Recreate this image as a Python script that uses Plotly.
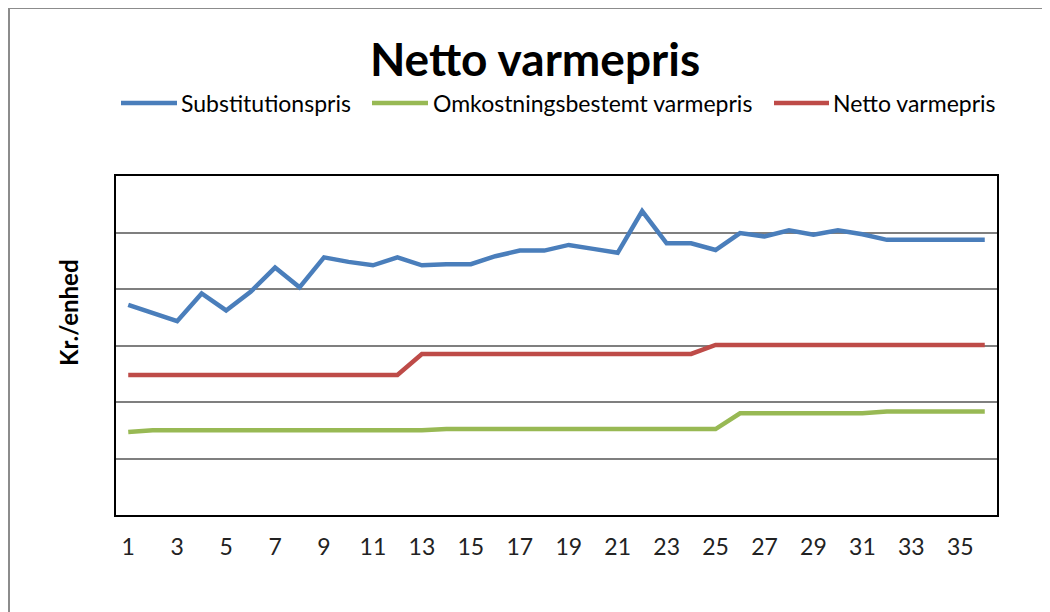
import plotly.graph_objects as go

periods = list(range(1, 37))
tick_labels = [str(i) for i in range(1, 37, 2)]

substitutionspris = [3.72, 3.57, 3.43, 3.92, 3.62, 3.95, 4.38, 4.03, 4.56, 4.48,
                     4.42, 4.56, 4.42, 4.44, 4.44, 4.58, 4.68, 4.68, 4.78, 4.71,
                     4.64, 5.38, 4.81, 4.81, 4.69, 4.99, 4.93, 5.04, 4.96, 5.04,
                     4.97, 4.87, 4.87, 4.87, 4.87, 4.87]
omkostningsbestemt = [1.47] + [1.50] * 12 + [1.52] * 12 + [1.80] * 6 + [1.83] * 5
netto = [2.48] * 12 + [2.85] * 12 + [3.01] * 12

series_names = ["Substitutionspris", "Omkostningsbestemt varmepris", "Netto varmepris"]
series_values = [substitutionspris, omkostningsbestemt, netto]
series_colors = ["#4A7EBB", "#98B954", "#BE4B48"]

FONT = "Lato, 'Open Sans', sans-serif"

# plot area in page pixels (page has an 8px body margin)
PL, PR, PT, PB = 116, 997, 176, 515
def px(X):
    return (X - PL) / (PR - PL)
def py(Y):
    return (PB - Y) / (PB - PT)

fig = go.Figure()
for name, vals, color in zip(series_names, series_values, series_colors):
    fig.add_trace(go.Scatter(
        x=[str(p) for p in periods], y=vals, name=name, mode="lines",
        line=dict(color=color, width=4.5), showlegend=False,
    ))

# manual legend (Excel-style long line samples)
legend_line_x = [(121, 177), (372, 428), (774, 829)]
legend_text_x = [179, 431, 831]
legend_y = 103
shapes = [dict(type="rect", xref="paper", yref="paper",
               x0=px(9), x1=1.2, y0=-0.5, y1=py(8),
               line=dict(color="#8C8C8C", width=2), fillcolor="rgba(0,0,0,0)",
               layer="below")]
annotations = []
for (x0, x1), tx, name, color in zip(legend_line_x, legend_text_x, series_names, series_colors):
    shapes.append(dict(type="line", xref="paper", yref="paper",
                       x0=px(x0), x1=px(x1), y0=py(legend_y), y1=py(legend_y),
                       line=dict(color=color, width=4.5)))
    annotations.append(dict(text=name, xref="paper", yref="paper",
                            x=px(tx), y=py(legend_y), showarrow=False,
                            xanchor="left", yanchor="middle",
                            font=dict(size=23, family=FONT, color="black")))

annotations.append(dict(text="<b>Kr./enhed</b>", xref="paper", yref="paper",
                        x=px(68), y=py(313), textangle=-90,
                        showarrow=False, xanchor="center", yanchor="middle",
                        font=dict(size=24, family=FONT, color="black")))

W, H = 1042, 604
fig.update_layout(
    width=W, height=H,
    margin=dict(l=PL - 8, r=8 + W - PR, t=PT - 8, b=8 + H - PB),
    paper_bgcolor="white", plot_bgcolor="white",
    font=dict(family=FONT, color="#000000"),
    title=dict(text="<b>Netto varmepris</b>", x=(535 - 8) / W,
               xanchor="center", y=1 - (60 - 8) / H, yanchor="middle",
               font=dict(size=46, family=FONT, color="black")),
    showlegend=False,
    xaxis=dict(type="category", tickmode="array", range=[-0.5, len(periods) - 0.5],
               tickvals=tick_labels, ticktext=tick_labels,
               showgrid=False, showline=True, linecolor="#000000", linewidth=2,
               mirror=True, ticks="", tickfont=dict(size=23, color="#222222", family=FONT),
               ticklabelstandoff=10, zeroline=False),
    yaxis=dict(range=[0, 6], dtick=1, showticklabels=False, ticks="",
               showgrid=True, gridcolor="#7F7F7F", gridwidth=1.5,
               showline=True, linecolor="#000000", linewidth=2, mirror=True,
               zeroline=False),
    shapes=shapes,
    annotations=annotations,
)

fig.write_html("out.html")
